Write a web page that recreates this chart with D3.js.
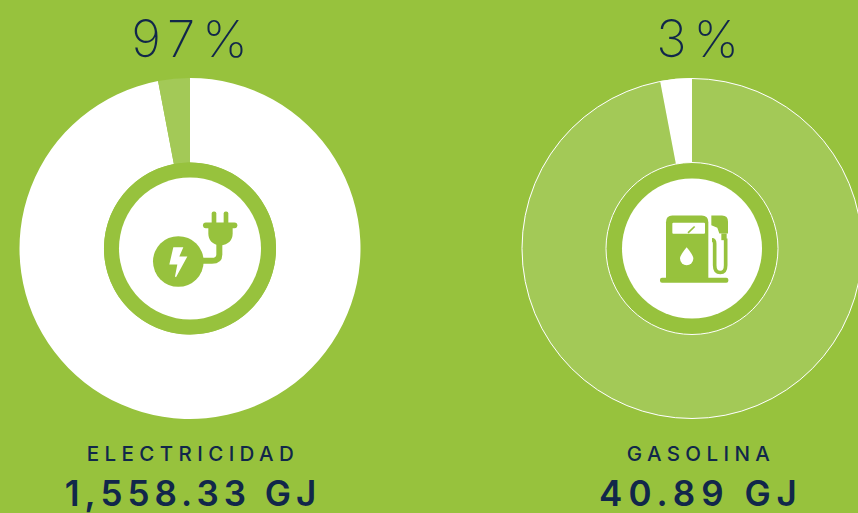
<!DOCTYPE html>
<html>
<head>
<meta charset="utf-8">
<script src="https://cdn.jsdelivr.net/npm/d3@7"></script>
<style>
  html, body { margin: 0; padding: 0; background: #97c23d; overflow: hidden; }
  text { font-family: Inter, Lato, sans-serif; fill: #11274a; text-anchor: middle; }
  .pct { font-size: 51px; font-weight: 200; letter-spacing: 7px; }
  .name { font-size: 20.5px; font-weight: 500; letter-spacing: 5.4px; }
  .amount { font-size: 35px; font-weight: 600; letter-spacing: 5px; }
</style>
</head>
<body>
<svg id="chart" width="858" height="513"></svg>
<script>
const categories = ['ELECTRICIDAD', 'GASOLINA'];
const percentLabels = ['97%', '3%'];
const amountLabels = ['1,558.33 GJ', '40.89 GJ'];
const electricidadShares = [97, 3];
const gasolinaShares = [97, 3];

const green = '#97c23d', light = '#a3c957', white = '#fff';

const x = d3.scaleOrdinal().domain(categories).range([190, 692]);
const radius = 170.5, ringOuter = 86;

const svg = d3.select('#chart');
const pie = d3.pie().sort(null);
const arc = d3.arc().innerRadius(ringOuter).outerRadius(radius);

// icons are traced at 3x, origin at the middle of the donut
const plugIcon = g => {
  g.append('circle').attr('cx', -35).attr('cy', 39).attr('r', 76).attr('fill', green);
  g.append('path').attr('fill', white)
    .attr('d', 'M-50,-4 L-20,-4 L-32,24 L-8,24 L-42,86 L-45,84 L-38,48 L-62,48 Z');
  g.append('path').attr('fill', 'none').attr('stroke', green).attr('stroke-width', 18)
    .attr('d', 'M88,-14 V18 Q88,37 66,37 H30');
  g.append('path').attr('fill', green)
    .attr('d', 'M55,-72 H128 V-46 Q128,-14 91,-9 Q55,-14 55,-46 Z');
  g.append('rect').attr('x', 39).attr('y', -78).attr('width', 103).attr('height', 17).attr('rx', 8.5).attr('fill', green);
  g.selectAll('.prong').data([65, 101]).enter().append('rect')
    .attr('class', 'prong')
    .attr('x', d => d).attr('y', -111).attr('width', 14).attr('height', 42).attr('rx', 6).attr('fill', green);
};

const pumpIcon = g => {
  g.append('path').attr('fill', green)
    .attr('d', 'M-59,-99 H29 Q49,-99 49,-79 V90 H-78 V-79 Q-78,-99 -59,-99 Z');
  g.append('rect').attr('x', -96).attr('y', 88).attr('width', 205).attr('height', 15).attr('rx', 6).attr('fill', green);
  g.append('rect').attr('x', -59).attr('y', -77).attr('width', 98).attr('height', 33).attr('rx', 3).attr('fill', white);
  g.append('path').attr('fill', 'none').attr('stroke', green).attr('stroke-width', 5).attr('d', 'M-12,-47 L8,-66');
  g.append('path').attr('fill', white)
    .attr('d', 'M-16,-4 Q-36,20 -36,30 A20,20 0 0 0 4,30 Q4,20 -16,-4 Z');
  g.append('path').attr('fill', green)
    .attr('d', 'M58,-99 H90 Q108,-99 108,-80 V-45 H82 L76,-62 L58,-70 Z');
  g.append('rect').attr('x', 88).attr('y', -45).attr('width', 16).attr('height', 20).attr('fill', green);
  g.append('path').attr('fill', 'none').attr('stroke', green).attr('stroke-width', 11)
    .attr('d', 'M60,-26 Q68,-26 68,-14 V50 Q68,72 85,72 Q101,72 101,50 V-30');
};

const donuts = svg.selectAll('.donut')
  .data([
    { name: categories[0], shares: electricidadShares, colors: [white, light], icon: plugIcon, inner: 71, pct: percentLabels[0], amount: amountLabels[0], line: false, labelShift: 3, amountGap: 5 },
    { name: categories[1], shares: gasolinaShares, colors: [light, white], icon: pumpIcon, inner: 70, pct: percentLabels[1], amount: amountLabels[1], line: true, labelShift: 9, amountGap: 6 }
  ])
  .enter().append('g')
  .attr('class', 'donut')
  .attr('transform', d => `translate(${x(d.name)},248.5)`);

donuts.selectAll('.slice')
  .data(d => pie(d.shares).map((p, i) => ({ ...p, color: d.colors[i] })))
  .enter().append('path')
  .attr('class', 'slice')
  .attr('d', arc)
  .attr('fill', d => d.color);

donuts.each(function(d) {
  const g = d3.select(this);
  if (d.line) {
    g.append('circle').attr('r', radius - 0.5).attr('fill', 'none').attr('stroke', white).attr('stroke-width', 1);
    g.append('circle').attr('r', ringOuter).attr('fill', green).attr('stroke', white).attr('stroke-width', 1);
  } else {
    g.append('circle').attr('r', ringOuter).attr('fill', green);
  }
  g.append('circle').attr('r', d.inner).attr('fill', white);
  d.icon(g.append('g').attr('transform', 'scale(0.3333)'));

  g.append('text').attr('class', 'pct').attr('x', d.labelShift).attr('y', -191.5).text(d.pct);
  g.append('text').attr('class', 'name').attr('x', d.labelShift).attr('y', 212.5).text(d.name);
  g.append('text').attr('class', 'amount').attr('x', d.labelShift).attr('y', 257.5).style('letter-spacing', d.amountGap + 'px').text(d.amount);
});
</script>
</body>
</html>
